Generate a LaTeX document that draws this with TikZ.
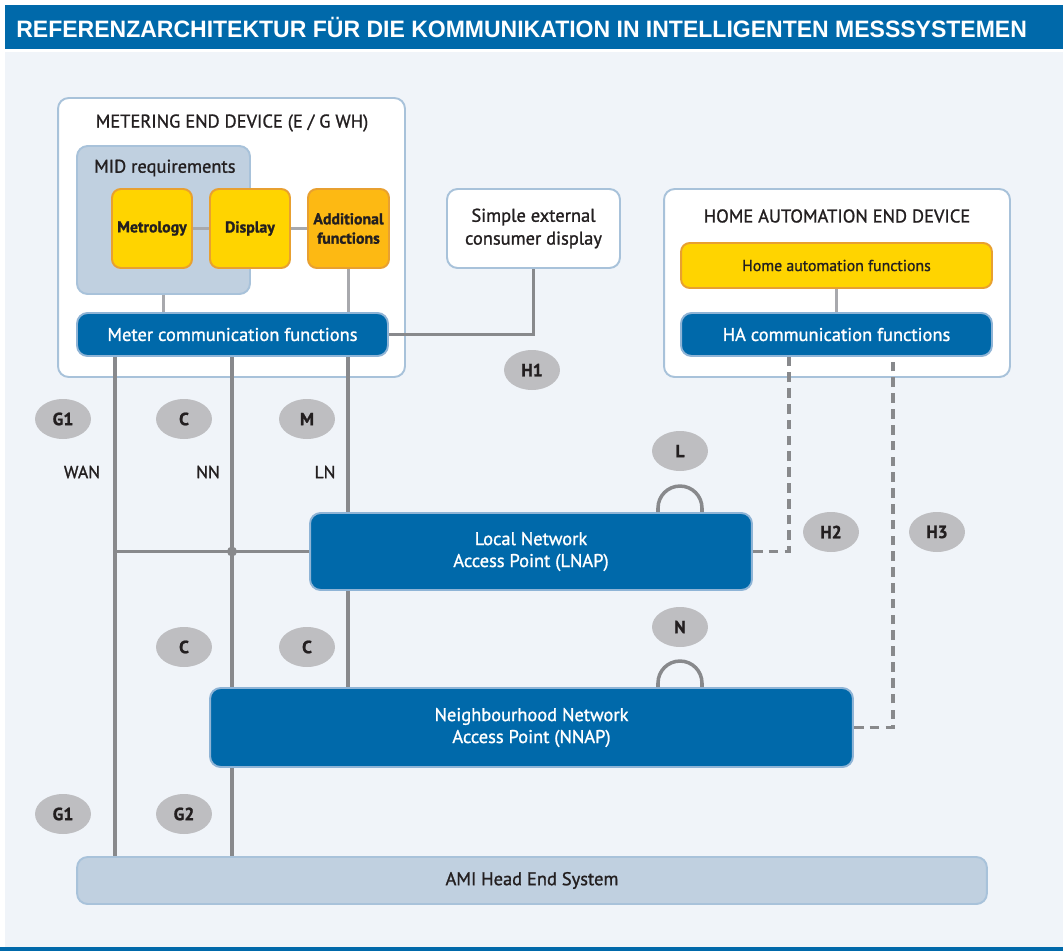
\documentclass[tikz,border=0pt]{standalone}
\usepackage{fontspec}
\setmainfont{PT Sans}[FakeBold=1.2]
\newfontfamily\headfont[FakeStretch=0.97]{Liberation Sans}
\usetikzlibrary{positioning,shapes.geometric}

\definecolor{pagebg}{HTML}{F0F4F9}
\definecolor{mainblue}{HTML}{0069AA}
\definecolor{commedge}{HTML}{8FB4D6}
\definecolor{paleblue}{HTML}{C0D0E0}
\definecolor{frameblue}{HTML}{A8C2DA}
\definecolor{sunyellow}{HTML}{FFD400}
\definecolor{sunorange}{HTML}{FDB913}
\definecolor{edgeorange}{HTML}{E8A030}
\definecolor{wiregrey}{HTML}{88898C}
\definecolor{innergrey}{HTML}{A8A9AD}
\definecolor{tokengrey}{HTML}{BEBEC1}
\definecolor{inktext}{HTML}{231F20}

\tikzset{
  device/.style={draw=frameblue, line width=1.1pt, fill=white, rounded corners=6pt, inner sep=0pt},
  midbox/.style={draw=frameblue, line width=1.1pt, fill=paleblue, rounded corners=6pt, inner sep=0pt},
  funcbox/.style={draw=edgeorange, line width=1.1pt, fill=sunyellow, rounded corners=5pt,
    inner sep=0pt, align=center, text=inktext, font=\fontsize{9}{11}\selectfont\bfseries},
  commbox/.style={draw=commedge, line width=1.1pt, fill=mainblue, rounded corners=6pt,
    inner sep=0pt, align=center, text=white, font=\fontsize{10.5}{12.5}\selectfont},
  token/.style={ellipse, fill=tokengrey, minimum width=1.12cm, minimum height=0.8cm,
    inner sep=0pt, text=inktext, font=\fontsize{10}{12}\selectfont\bfseries},
  heading/.style={text=inktext, font=\fontsize{10.5}{12.5}\selectfont},
  wire/.style={wiregrey, line width=2pt},
  link/.style={innergrey, line width=1.6pt},
  halink/.style={wire, dash pattern=on 5.5pt off 3.5pt},
}

\begin{document}
\begin{tikzpicture}[x=0.02cm, y=-0.02cm]
  \useasboundingbox (0,0) rectangle (1063,951);
  \fill[white] (0,0) rectangle (1063,951);
  \fill[mainblue] (5,5) rectangle (1063,49);
  \fill[pagebg] (5,52) rectangle (1063,947);
  \fill[mainblue] (0,947) rectangle (1063,951);
  \node[anchor=west, inner sep=0pt, text=white, font=\headfont\bfseries\fontsize{13.5}{15}\selectfont] (title) at (16,27)
    {REFERENZARCHITEKTUR FÜR DIE KOMMUNIKATION IN INTELLIGENTEN MESSSYSTEMEN};

  % metering end device
  \node[device, minimum width=6.94cm, minimum height=5.58cm] (med) at (231.5,237.5) {};
  \node[heading] (medtitle) at (232,123) {METERING END DEVICE (E / G WH)};
  \node[midbox, minimum width=3.46cm, minimum height=2.96cm] (mid) at (163.5,220) {};
  \node[heading, anchor=west] (midtitle) at (88,168) {MID requirements};
  \node[funcbox, minimum width=1.6cm, minimum height=1.58cm] (metro) at (152,228.5) {Metrology};
  \node[funcbox, minimum width=1.6cm, minimum height=1.58cm] (disp) at (250,228.5) {Display};
  \node[funcbox, fill=sunorange, minimum width=1.62cm, minimum height=1.58cm] (addf) at (348.5,228.5) {Additional\\functions};
  \node[commbox, minimum width=6.22cm, minimum height=0.86cm] (mcf) at (232.5,334.5) {Meter communication functions};

  \draw[link] (metro) -- (disp);
  \draw[link] (disp) -- (addf);
  \draw[link] (mid.south) -- (mid.south |- mcf.north);
  \draw[link] (addf.south) -- (addf.south |- mcf.north);

  % external display
  \node[device, minimum width=3.46cm, minimum height=1.58cm, align=center, text=inktext,
    font=\fontsize{10.5}{13}\selectfont] (sced) at (533.5,228.5) {Simple external\\consumer display};

  % home automation end device
  \node[device, minimum width=6.92cm, minimum height=3.76cm] (haed) at (837,283) {};
  \node[heading] (haedtitle) at (837,216) {HOME AUTOMATION END DEVICE};
  \node[funcbox, font=\fontsize{9}{11}\selectfont, minimum width=6.22cm, minimum height=0.9cm] (haf) at (836.5,265.5) {Home automation functions};
  \node[commbox, minimum width=6.22cm, minimum height=0.86cm] (hacf) at (836.5,334.5) {HA communication functions};
  \draw[link] (haf) -- (hacf);

  % access points and head end
  \node[commbox, minimum width=8.84cm, minimum height=1.54cm] (lnap) at (531,551.5) {Local Network\\Access Point (LNAP)};
  \node[commbox, minimum width=12.86cm, minimum height=1.58cm] (nnap) at (531.5,727.5) {Neighbourhood Network\\Access Point (NNAP)};
  \node[midbox, minimum width=18.2cm, minimum height=0.94cm, text=inktext,
    font=\fontsize{10.5}{12.5}\selectfont] (ami) at (532,880.5) {AMI Head End System};

  \coordinate (wanx) at (115,0);
  \coordinate (nnx) at (232,0);
  \coordinate (lnx) at (348,0);
  \coordinate (loopx) at (658,0);
  \coordinate (h2x) at (789,0);
  \coordinate (h3x) at (893,0);

  % wires
  \draw[wire] (mcf.south -| wanx) -- (ami.north -| wanx);
  \draw[wire] (mcf.south -| nnx) -- (nnap.north -| nnx);
  \draw[wire] (nnap.south -| nnx) -- (ami.north -| nnx);
  \draw[wire] (mcf.south -| lnx) -- (lnap.north -| lnx);
  \draw[wire] (lnap.south -| lnx) -- (nnap.north -| lnx);
  \draw[wire] (lnap.west -| wanx) -- (lnap.west);
  \node[circle, fill=wiregrey, minimum size=0.2cm, inner sep=0pt] (joint) at (lnap.west -| nnx) {};
  \draw[wire] (mcf.east) -- (mcf.east -| sced.south) -- (sced.south);
  \draw[wire] (lnap.north -| loopx) -- ++(0,-4) arc[start angle=180, end angle=0, radius=0.44cm] -- ++(0,4);
  \draw[wire] (nnap.north -| loopx) -- ++(0,-4) arc[start angle=180, end angle=0, radius=0.44cm] -- ++(0,4);
  \draw[halink] (lnap.east) -- (lnap.east -| h2x) -- (hacf.south -| h2x);
  \draw[halink] (nnap.east) -- (nnap.east -| h3x) -- (hacf.south -| h3x);

  % interface labels
  \node[token] (h1) at (532,370) {H1};
  \node[token] (g1top) at (63,419) {G1};
  \node[token] (ctop) at (184,419) {C};
  \node[token] (m) at (307,419) {M};
  \node[token] (l) at (680,451) {L};
  \node[token] (h2) at (831,532) {H2};
  \node[token] (h3) at (937,532) {H3};
  \node[token] (cleft) at (184,647) {C};
  \node[token] (cright) at (307,647) {C};
  \node[token] (n) at (680,627) {N};
  \node[token] (g1low) at (63,814) {G1};
  \node[token] (g2) at (184,814) {G2};

  \node[heading, font=\fontsize{10}{12}\selectfont] (wan) at (82,472) {WAN};
  \node[heading, font=\fontsize{10}{12}\selectfont] (nn) at (208,472) {NN};
  \node[heading, font=\fontsize{10}{12}\selectfont] (ln) at (325,472) {LN};
\end{tikzpicture}
\end{document}
